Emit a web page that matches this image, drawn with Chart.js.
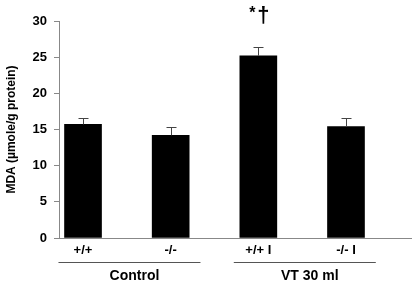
<!DOCTYPE html>
<html>
<head>
<meta charset="utf-8">
<script src="https://cdn.jsdelivr.net/npm/chart.js@4/dist/chart.umd.min.js"></script>
<style>
  html, body { margin: 0; padding: 0; background: #fff; }
  #wrap { width: 412px; height: 284px; }
</style>
</head>
<body>
<div id="wrap"><canvas id="chart"></canvas></div>
<script>
// data
const categories = ["+/+", "-/-", "+/+ I", "-/- I"];
const mdaValues = [15.7, 14.2, 25.2, 15.4];
const sdValues = [0.9, 1.1, 1.2, 1.2];
const marks = ["", "", "*\u2020", ""];
const groups = ["Control", "VT 30 ml"];
const groupMembers = [[0, 1], [2, 3]];
const yTicks = [0, 5, 10, 15, 20, 25, 30];

const font = "'Liberation Sans', Arial, sans-serif";

// error bars + significance mark + group brackets under the axis
const extras = {
  id: "extras",
  afterDatasetsDraw(chart) {
    const { ctx, scales: { x, y }, chartArea } = chart;
    ctx.save();

    // error bars (upper half only)
    ctx.strokeStyle = "#444";
    ctx.lineWidth = 1;
    mdaValues.forEach((v, i) => {
      const cx = Math.round(x.getPixelForValue(i)) + 0.5;
      const y0 = y.getPixelForValue(v);
      const y1 = Math.round(y.getPixelForValue(v + sdValues[i])) + 0.5;
      ctx.beginPath();
      ctx.moveTo(cx, y0);
      ctx.lineTo(cx, y1);
      ctx.moveTo(cx - 5, y1);
      ctx.lineTo(cx + 5, y1);
      ctx.stroke();
    });

    // * dagger above the ventilated +/+ bar
    ctx.fillStyle = "#000";
    ctx.textAlign = "center";
    ctx.textBaseline = "alphabetic";
    marks.forEach((m, i) => {
      if (!m) return;
      const cx = x.getPixelForValue(i);
      const top = y.getPixelForValue(mdaValues[i] + sdValues[i]);
      ctx.font = "bold 16px " + font;
      ctx.fillText(m[0], cx - 6, top - 29);
      ctx.font = "bold 22px " + font;
      ctx.fillText(m[1], cx + 5, top - 25);
    });

    // group brackets
    const lineY = Math.round(chartArea.bottom + 24) + 0.5;
    ctx.strokeStyle = "#555";
    ctx.font = "bold 14px " + font;
    ctx.textBaseline = "middle";
    groups.forEach((g, k) => {
      const [a, b] = groupMembers[k];
      const x0 = x.getPixelForValue(a - 0.28);
      const x1 = x.getPixelForValue(b + 0.34);
      ctx.beginPath();
      ctx.moveTo(x0, lineY);
      ctx.lineTo(x1, lineY);
      ctx.stroke();
      ctx.fillText(g, (x0 + x1) / 2 + 5, lineY + 14);
    });
    ctx.restore();
  }
};

new Chart(document.getElementById("chart"), {
  type: "bar",
  data: {
    datasets: [{
      data: mdaValues.map((v, i) => ({ x: i, y: v })),
      backgroundColor: "#000",
      borderWidth: 0,
      barThickness: 37
    }]
  },
  options: {
    responsive: true,
    maintainAspectRatio: false,
    animation: false,
    events: [],
    layout: { padding: { top: 21, right: 0, bottom: 0, left: 0 } },
    plugins: { legend: { display: false }, tooltip: { enabled: false } },
    scales: {
      x: {
        type: "linear",
        offset: false,
        min: -0.274,
        max: 3.753,
        grid: { display: false, drawTicks: false, offset: false },
        border: { display: true, color: "#888", width: 1 },
        afterBuildTicks: (s) => { s.ticks = categories.map((c, i) => ({ value: i })); },
        afterFit: (s) => { s.height = 46; s.paddingLeft = 0; s.paddingRight = 0; },
        ticks: {
          autoSkip: false,
          maxRotation: 0,
          padding: 5,
          color: "#000",
          font: { family: font, size: 13, weight: "bold" },
          callback: (v) => categories[v]
        }
      },
      y: {
        min: 0,
        max: 30,
        grid: { display: true, drawOnChartArea: false, drawTicks: true, tickLength: 5, color: "#888" },
        border: { display: true, color: "#888", width: 1 },
        afterBuildTicks: (s) => { s.ticks = yTicks.map(v => ({ value: v })); },
        afterFit: (s) => { s.width = 59; s.paddingTop = 0; s.paddingBottom = 0; },
        title: {
          display: true,
          text: "MDA (\u00b5mole/g protein)",
          color: "#000",
          font: { family: font, size: 12, weight: "bold" },
          padding: { top: 4, bottom: 0 }
        },
        ticks: {
          padding: 7,
          color: "#000",
          font: { family: font, size: 13, weight: "bold" }
        }
      }
    }
  },
  plugins: [extras]
});
</script>
</body>
</html>
